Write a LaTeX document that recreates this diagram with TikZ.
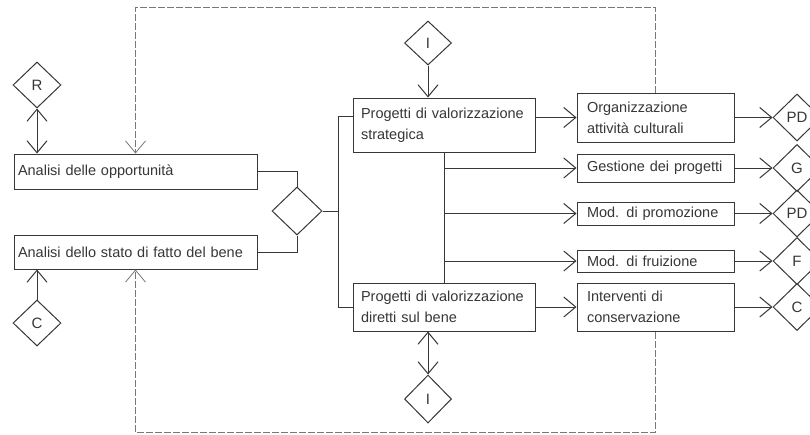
\documentclass[tikz,border=0pt]{standalone}
\usepackage{fontspec}
\setmainfont{Liberation Sans}
\usetikzlibrary{positioning, shapes.geometric, arrows.meta}

\definecolor{inkgray}{RGB}{55,55,55}
\definecolor{dashgray}{RGB}{120,120,120}

\tikzset{
  barb/.tip={Straight Barb[length=12pt, width=20pt]},
  box/.style={draw=inkgray, line width=1pt, rectangle, align=left, inner ysep=0pt,
    font=\fontsize{14.5}{21}\selectfont, text=inkgray},
  rbox/.style={box, minimum width=157, inner xsep=10pt, text width=137},
  choice/.style={draw=inkgray, line width=1pt, diamond, inner sep=0pt,
    minimum width=48, minimum height=46, font=\fontsize{15}{16}\selectfont, text=inkgray},
  link/.style={draw=inkgray, line width=1pt},
  feedback/.style={draw=dashgray, line width=0.8pt, dash pattern=on 7pt off 2pt},
}

\begin{document}
\begin{tikzpicture}[x=1pt, y=-1pt]
  \clip (0,0) rectangle (810,434);
  \fill[white] (0,0) rectangle (810,434);

  % analisi
  \node[box, minimum width=243, minimum height=35, inner xsep=4pt, text width=235] (opp) at (135.5,171.5) {Analisi delle opportunità};
  \node[box, minimum width=243, minimum height=34, inner xsep=4pt, text width=235] (stato) at (135.5,252) {Analisi dello stato di fatto del bene};
  \node[choice] (R) at (37,85) {R};
  \node[choice] (C) at (37,323) {C};
  \node[choice, minimum width=50, minimum height=48] (mid) at (297,211) {};

  % progetti
  \node[box, minimum width=182, minimum height=54, inner xsep=8pt, text width=166] (strat) at (444,125) {Progetti di valorizzazione\\strategica};
  \node[box, minimum width=182, minimum height=48, inner xsep=8pt, text width=166] (dir) at (444,307) {Progetti di valorizzazione\\diretti sul bene};
  \node[choice, minimum width=47, minimum height=44] (Itop) at (428,43) {I};
  \node[choice, minimum width=47, minimum height=48] (Ibot) at (428,399) {I};

  % attivita
  \node[rbox, minimum height=49] (org) at (655.5,117.5) {Organizzazione\\attività culturali};
  \node[rbox, minimum height=28] (gest) at (655.5,168) {Gestione dei progetti};
  \node[rbox, minimum height=23] (prom) at (655.5,213.5) {Mod. di promozione};
  \node[rbox, minimum height=22] (fru) at (655.5,261) {Mod. di fruizione};
  \node[rbox, minimum height=48] (cons) at (655.5,307) {Interventi di\\conservazione};

  % esiti
  \node[choice, minimum height=47] (PDa) at (797,117.5) {PD};
  \node[choice, minimum height=47] (G) at (797,168) {G};
  \node[choice, minimum height=47] (PDb) at (797,213.5) {PD};
  \node[choice, minimum height=47] (F) at (797,261) {F};
  \node[choice, minimum height=47] (Cr) at (797,307) {C};

  \coordinate (tt) at (338,116);
  \coordinate (tb) at (338,307);
  \coordinate (fbtop) at (0,7);
  \coordinate (fbbot) at (0,432);

  \draw[link, barb-barb] (R.south) -- (R.south |- opp.north);
  \draw[link, -barb] (C.north) -- (C.north |- stato.south);
  \draw[link] (opp.east) -| (mid.north);
  \draw[link] (stato.east) -| (mid.south);
  \draw[link] (mid.east) -- (mid.east -| tt);
  \draw[link] (strat.west |- tt) -- (tt) -- (tb) -- (dir.west);
  \draw[link, -barb] (Itop.south) -- (Itop.south |- strat.north);
  \draw[link, barb-barb] (dir.south -| Ibot) -- (Ibot.north);

  \draw[link, -barb] (org.west -| strat.east) -- (org.west);
  \draw[link] (strat.south) -- (dir.north);
  \foreach \b in {gest, prom, fru}
    \draw[link, -barb] (\b.west -| strat.south) -- (\b.west);
  \draw[link, -barb] (dir.east) -- (cons.west);

  \draw[link, -barb] (org.east) -- (PDa.west);
  \draw[link, -barb] (gest.east) -- (G.west);
  \draw[link, -barb] (prom.east) -- (PDb.west);
  \draw[link, -barb] (fru.east) -- (F.west);
  \draw[link, -barb] (cons.east) -- (Cr.west);

  % retroazione
  \draw[feedback, -barb] (org.north) |- (fbtop -| opp.north) -- (opp.north);
  \draw[feedback, -barb] (cons.south) |- (fbbot -| stato.south) -- (stato.south);
\end{tikzpicture}
\end{document}
